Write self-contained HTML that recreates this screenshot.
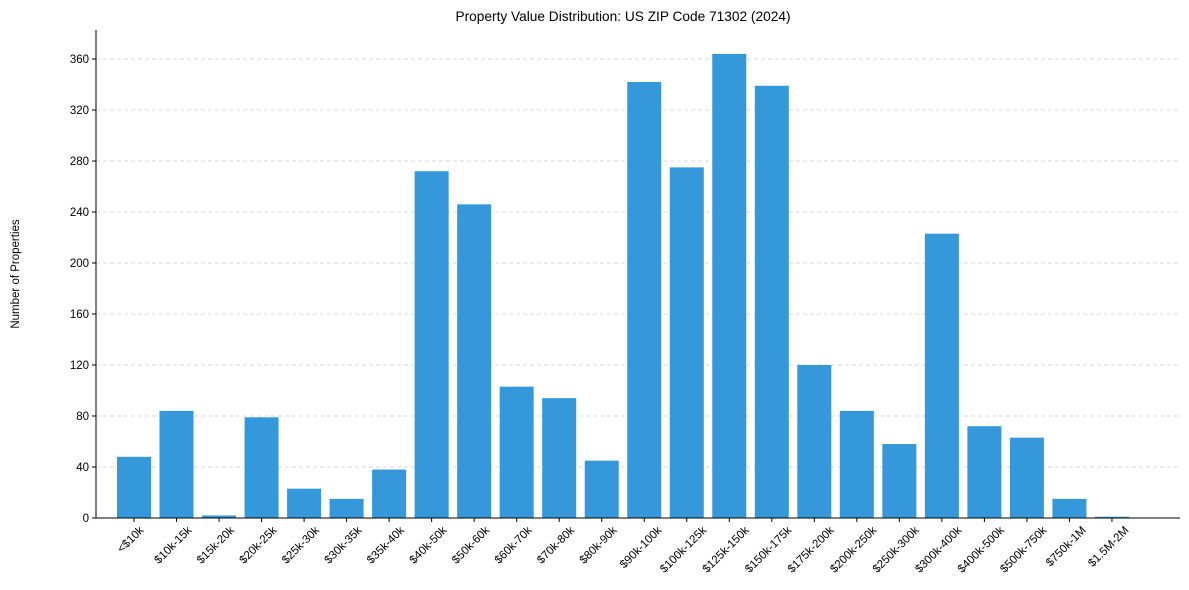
<!DOCTYPE html>
<html><head><meta charset="utf-8"><style>
body{margin:0;background:#fff;}
svg{display:block;font-family:"Liberation Sans",Arial,sans-serif;}
</style></head><body>
<svg id="chart" width="1189" height="590">
<text x="623" y="21" text-anchor="middle" font-size="13.7" fill="#000">Property Value Distribution: US ZIP Code 71302 (2024)</text>
<text transform="translate(19,274) rotate(-90)" text-anchor="middle" font-size="11.5" fill="#000">Number of Properties</text>
<g id="grid"></g><g id="bars"></g><g id="axes"></g>
</svg>
<script>
const categories=["<$10k","$10k-15k","$15k-20k","$20k-25k","$25k-30k","$30k-35k","$35k-40k","$40k-50k","$50k-60k","$60k-70k","$70k-80k","$80k-90k","$90k-100k","$100k-125k","$125k-150k","$150k-175k","$175k-200k","$200k-250k","$250k-300k","$300k-400k","$400k-500k","$500k-750k","$750k-1M","$1.5M-2M"];
const counts=[48,84,2,79,23,15,38,272,246,103,94,45,342,275,364,339,120,84,58,223,72,63,15,1];
const yTicks=[0,40,80,120,160,200,240,280,320,360];
const NS="http://www.w3.org/2000/svg";
const L=96,R=1180,T=30,B=518;
const x0=134,step=42.52,bw=34;
function xs(i){return x0+i*step;}
function ys(v){return B-v*(B-59)/360;}
function mk(tag,attrs,parent){const e=document.createElementNS(NS,tag);for(const k in attrs)e.setAttribute(k,attrs[k]);parent.appendChild(e);return e;}
const grid=document.getElementById('grid'),bars=document.getElementById('bars'),axes=document.getElementById('axes');
yTicks.forEach(v=>{
  if(v>0){const g=mk('line',{x1:L,x2:R,y1:ys(v),y2:ys(v),stroke:'#ccc','stroke-dasharray':'4,3','stroke-width':0.8},grid);
  
  }
  const t=mk('line',{x1:L-4,x2:L,y1:ys(v),y2:ys(v),stroke:'#000'},axes);
  
  
  const tx=mk('text',{x:L-7,y:ys(v)+4,'text-anchor':'end','font-size':'11.5'},axes);tx.textContent=v;
  
  
});
categories.forEach((c,i)=>{
  const r=mk('rect',{x:xs(i)-bw/2,y:ys(counts[i]),width:bw,height:B-ys(counts[i]),fill:'#3498db'},bars);
  
  
  const t=mk('line',{x1:xs(i),x2:xs(i),y1:B,y2:B+4,stroke:'#000'},axes);
  
  
  const tx=mk('text',{'text-anchor':'middle','font-size':'11.5'},axes);tx.textContent=c;
  
  
  const len=tx.getComputedTextLength();
  const cy=B+6+(len+11)*0.3536;
  tx.setAttribute('transform',`translate(${xs(i)-1},${cy+3}) rotate(-45)`);
});
const ax=mk('line',{x1:L,x2:L,y1:T,y2:B,stroke:'#000'},axes);


const bx=mk('line',{x1:L,x2:R,y1:B,y2:B,stroke:'#000'},axes);


</script>
</body></html>
